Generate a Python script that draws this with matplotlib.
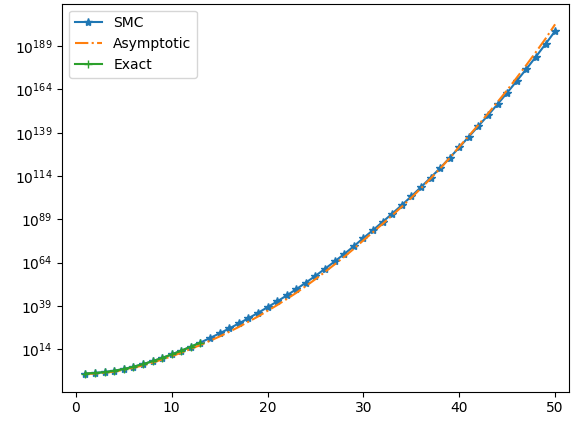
import numpy as np
import matplotlib
matplotlib.use("Agg")
from matplotlib import pyplot as plt
from matplotlib import ticker

# n = 1..50, values as log10
n = np.arange(1, 51)
smc_log10 = [0.0, 0.3, 0.8, 1.6, 2.6, 3.9, 5.4, 7.1, 9.0, 11.0,
             13.2, 15.5, 17.9, 20.5, 23.2, 26.0, 28.9, 31.9, 35.0, 38.3,
             41.6, 45.1, 48.7, 52.5, 56.4, 60.5, 64.7, 69.0, 73.5, 78.2,
             82.8, 87.5, 92.3, 97.2, 102.3, 107.6, 113.0, 118.6, 124.5, 130.6,
             136.7, 142.9, 149.1, 155.5, 162.1, 168.9, 175.8, 182.9, 190.2, 197.7]
asym_log10 = [-0.3, 0.0, 0.4, 1.1, 2.1, 3.3, 4.7, 6.3, 8.1, 10.0,
              12.0, 14.2, 16.5, 18.9, 21.4, 24.1, 26.9, 29.9, 32.9, 36.2,
              39.5, 43.0, 46.6, 50.5, 54.5, 58.7, 63.0, 67.4, 72.0, 76.9,
              81.6, 86.4, 91.3, 96.3, 101.5, 106.9, 112.5, 118.3, 124.4, 130.9,
              137.2, 143.6, 150.1, 156.8, 163.6, 170.8, 178.1, 185.6, 193.3, 201.6]
n_exact = np.arange(1, 14)
exact_log10 = [0.0, 0.3, 0.8, 1.6, 2.6, 3.9, 5.4, 7.1, 9.0, 11.0, 13.2, 15.5, 17.9]

ytick_exp = [14, 39, 64, 89, 114, 139, 164, 189]

fig = plt.figure(figsize=(5.71, 4.21), dpi=100)
ax = fig.add_axes([62 / 571, 29.3 / 421, 507 / 571, 388 / 421])

ax.semilogy(n, 10.0 ** np.array(smc_log10), '-*', label='SMC')
ax.semilogy(n, 10.0 ** np.array(asym_log10), '-.', label='Asymptotic')
ax.semilogy(n_exact, 10.0 ** np.array(exact_log10), '-+', label='Exact')

ax.set_xlim(-1.45, 51.45)
ax.set_ylim(10.0 ** -10.5, 10.0 ** 213.5)
ax.yaxis.set_major_locator(ticker.FixedLocator([10.0 ** e for e in ytick_exp]))
ax.yaxis.set_major_formatter(ticker.LogFormatterSciNotation())
ax.yaxis.set_minor_locator(ticker.NullLocator())
ax.set_xticks([0, 10, 20, 30, 40, 50])

ax.legend(loc='upper left')

fig.savefig('out.png', dpi=100)
